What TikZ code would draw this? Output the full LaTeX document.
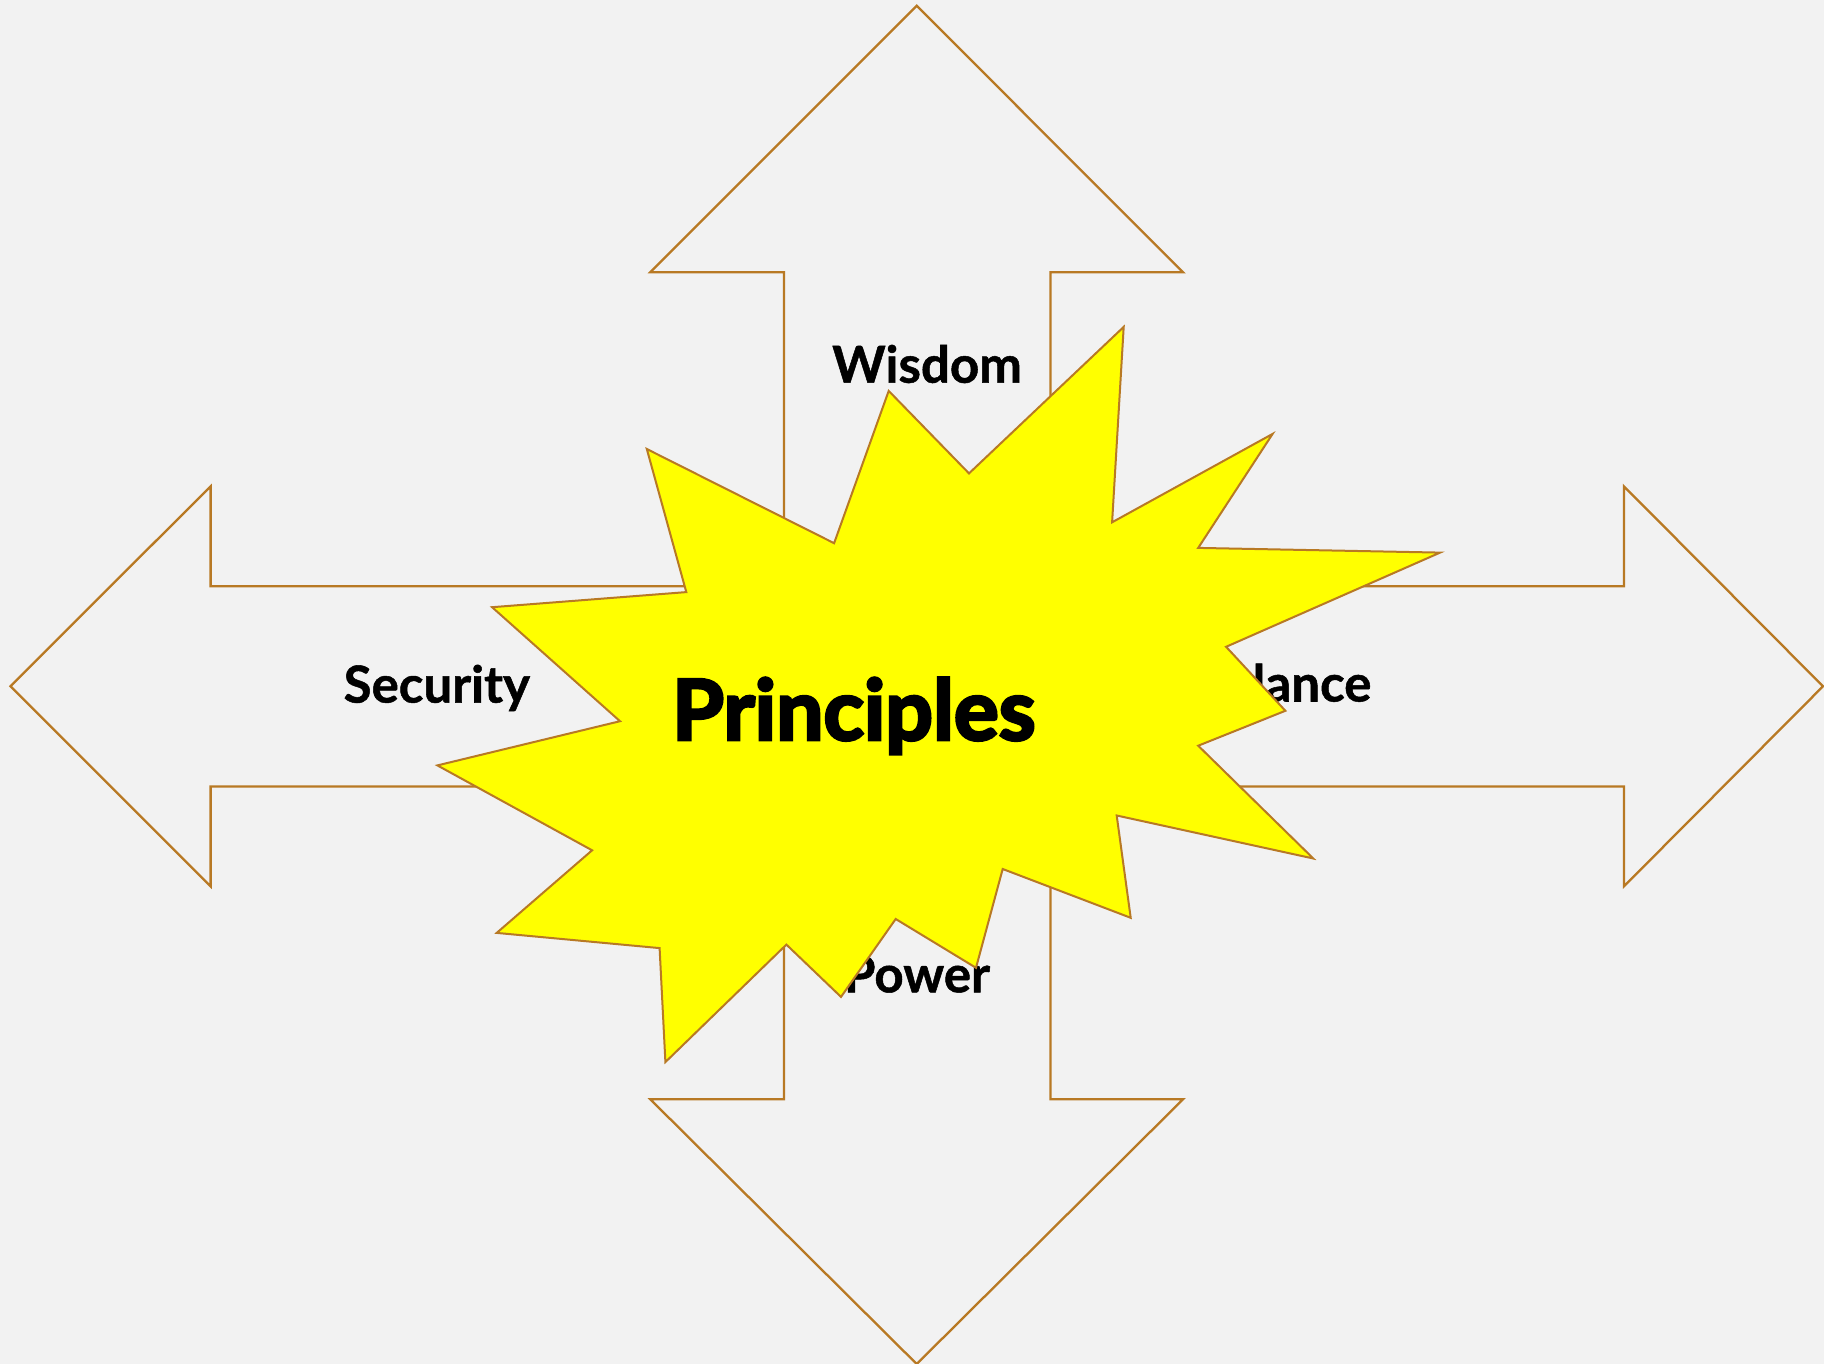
\documentclass[tikz,border=0pt]{standalone}
\usepackage{fontspec}
\setmainfont{Lato}
\newfontfamily\labelfont{Lato}[BoldFeatures={FakeBold=1}]
\newfontfamily\heavyfont{Lato}[BoldFeatures={FakeBold=3.5}]
\definecolor{bg}{RGB}{242,242,242}
\definecolor{edge}{RGB}{184,121,36}
\definecolor{burst}{RGB}{255,255,0}
\begin{document}
\begin{tikzpicture}[x=1pt,y=-1pt,
  outline/.style={draw=edge,line width=2.3pt,line join=miter},
  lbl/.style={font=\labelfont\bfseries\fontsize{51}{60}\selectfont,text=black,inner sep=0pt},
  title/.style={font=\heavyfont\bfseries\fontsize{84}{98}\selectfont,text=black,inner sep=0pt}]
\fill[bg] (0,0) rectangle (1824,1364);
\useasboundingbox (0,0) rectangle (1824,1364);
% vertical double arrow
\draw[outline] (916.7,5.8) -- (1183.0,272.2) -- (1050.4,272.2) -- (1050.4,1099.3) -- (1183.0,1099.3)
  -- (916.7,1364) -- (650.3,1099.3) -- (784.0,1099.3) -- (784.0,272.2) -- (650.3,272.2) -- cycle;
% horizontal double arrow
\draw[outline] (10.5,686.3) -- (210.6,486.3) -- (210.6,586.3) -- (1623.9,586.3) -- (1623.9,486.3)
  -- (1823,686.3) -- (1623.9,886.4) -- (1623.9,786.4) -- (210.6,786.4) -- (210.6,886.4) -- cycle;
% labels
\node[lbl,anchor=base] (wisdom) at (927,382.7) {Wisdom};
\node[lbl,anchor=base] (security) at (436.8,702.6) {Security};
\node[lbl,anchor=base east] (balance) at (1371.5,701.5) {Balance};
\node[lbl,anchor=base] (power) at (917,992.3) {Power};
% burst
\draw[outline,fill=burst,line width=2pt]
  (1123.7,326.9) -- (1112.1,522.3) -- (1272.6,433.9) -- (1198.2,547.9) -- (1440.1,552.6)
  -- (1226.1,646.8) -- (1285.4,710.8) -- (1198.2,745.7) -- (1313.3,858.5) -- (1116.7,815.5)
  -- (1130.7,917.8) -- (1002.7,869.0) -- (976.0,967.8) -- (895.7,919.0) -- (841.0,996.9)
  -- (786.4,944.6) -- (665.4,1062.1) -- (659.6,948.1) -- (496.7,932.9) -- (592.1,850.3)
  -- (437.4,765.4) -- (620.0,721.2) -- (492.1,607.2) -- (686.3,592.1) -- (646.8,449.0)
  -- (834.1,543.2) -- (888.7,390.9) -- (969.0,473.4) -- cycle;
\node[title,anchor=base] (principles) at (853.8,740) {Principles};
\end{tikzpicture}
\end{document}
